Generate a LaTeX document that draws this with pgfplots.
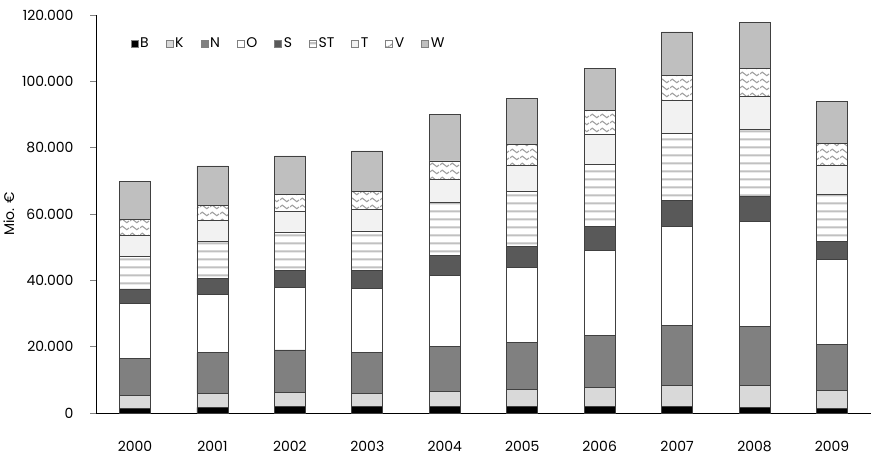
\documentclass[border=0pt]{standalone}
\usepackage{fontspec}
\setmainfont{Poppins}
\usepackage{pgfplots}
\pgfplotsset{compat=1.18}
\usepackage{pgfplotstable}
\usetikzlibrary{patterns.meta}
\definecolor{cK}{HTML}{D9D9D9}
\definecolor{cN}{HTML}{808080}
\definecolor{cS}{HTML}{595959}
\definecolor{cT}{HTML}{F2F2F2}
\definecolor{cW}{HTML}{BFBFBF}
\definecolor{edge}{HTML}{404040}
\definecolor{patc}{HTML}{A0A0A0}
\tikzdeclarepattern{name=hstripes, type=uncolored,
  bounding box={(0pt,0pt) and (1pt,8pt)}, tile size={(1pt,8pt)},
  code={\fill (0pt,2.8pt) rectangle (1pt,5.2pt);}}
\tikzdeclarepattern{name=waves, type=uncolored,
  bounding box={(0pt,0pt) and (10pt,7pt)}, tile size={(10pt,7pt)},
  code={\draw[line width=1.2pt] (0pt,3.5pt) sin (2.5pt,5.5pt) cos (5pt,3.5pt) sin (7.5pt,1.5pt) cos (10pt,3.5pt);}}
\pgfplotstableread{
x B K N O S ST T V W
0 1400 3900 11200 16400 4500 9900 6300 4800 11450
1 1700 4200 12300 17500 4900 11200 6300 4600 11800
2 1900 4200 12900 18900 5200 11500 6300 5000 11600
3 1900 4000 12400 19200 5400 12000 6600 5300 12200
4 1900 4500 13800 21300 6000 16000 7000 5500 14050
5 1900 5100 14200 22800 6300 16600 7700 6400 13900
6 2100 5600 15700 25650 7250 18700 8900 7400 12600
7 2100 6300 18100 29800 7900 20100 9850 7650 13100
8 1800 6550 17850 31600 7400 20300 9900 8500 13900
9 1300 5600 13900 25400 5650 14050 8700 6800 12600
}\data
\begin{document}
\fontsize{14}{16}\selectfont
\begin{tikzpicture}
\begin{axis}[
  scale only axis,
  width=774.4pt, height=398pt,
  ybar stacked, bar width=31pt,
  xmin=-0.5, xmax=9.5, ymin=0, ymax=120000,
  axis lines*=left, axis line style={-, black, line width=0.8pt},
  xtick={0,...,9},
  xticklabels={2000,2001,2002,2003,2004,2005,2006,2007,2008,2009},
  x tick style={draw=none},
  extra x ticks={0.5,1.5,...,8.5},
  extra x tick labels={,,,,,,,,},
  extra x tick style={tick align=inside, major tick length=5pt, tick style={draw=gray, line width=0.6pt}},
  xticklabel style={yshift=-17pt},
  ytick={0,20000,...,120000},
  scaled y ticks=false,
  yticklabels={0,20.000,40.000,60.000,80.000,100.000,120.000},
  y tick style={draw=gray, line width=0.6pt},
  tick align=outside, major tick length=6pt,
  yticklabel style={xshift=-12pt},
  ylabel={Mio. €},
  ylabel style={at={(axis description cs:-0.113,0.5)}, anchor=center},
  legend columns=-1,
  legend style={draw=none, fill=none, at={(axis description cs:0.044,0.927)}, anchor=west, inner sep=0pt,
    /tikz/every even column/.append style={column sep=15pt}},
  legend image code/.code={\draw[#1, draw=gray, line width=0.5pt] (0pt,-3.5pt) rectangle (7pt,3.5pt);},
  every axis plot/.append style={draw=edge, line width=0.8pt},
]
\addplot[fill=black, draw=edge] table[x=x,y=B]{\data};
\addplot[fill=cK, draw=edge] table[x=x,y=K]{\data};
\addplot[fill=cN, draw=edge] table[x=x,y=N]{\data};
\addplot[fill=white, draw=edge] table[x=x,y=O]{\data};
\addplot[fill=cS, draw=edge] table[x=x,y=S]{\data};
\addplot[preaction={fill=white}, pattern=hstripes, pattern color=patc, draw=edge] table[x=x,y=ST]{\data};
\addplot[fill=cT, draw=edge] table[x=x,y=T]{\data};
\addplot[preaction={fill=white}, pattern=waves, pattern color=patc, draw=edge] table[x=x,y=V]{\data};
\addplot[fill=cW, draw=edge] table[x=x,y=W]{\data};
\legend{B,K,N,O,S,ST,T,V,W}
\end{axis}
\pgfresetboundingbox
\path ([xshift=-96.3pt,yshift=-42pt]current axis.south west) rectangle ([xshift=2.3pt,yshift=15pt]current axis.north east);
\end{tikzpicture}
\end{document}
